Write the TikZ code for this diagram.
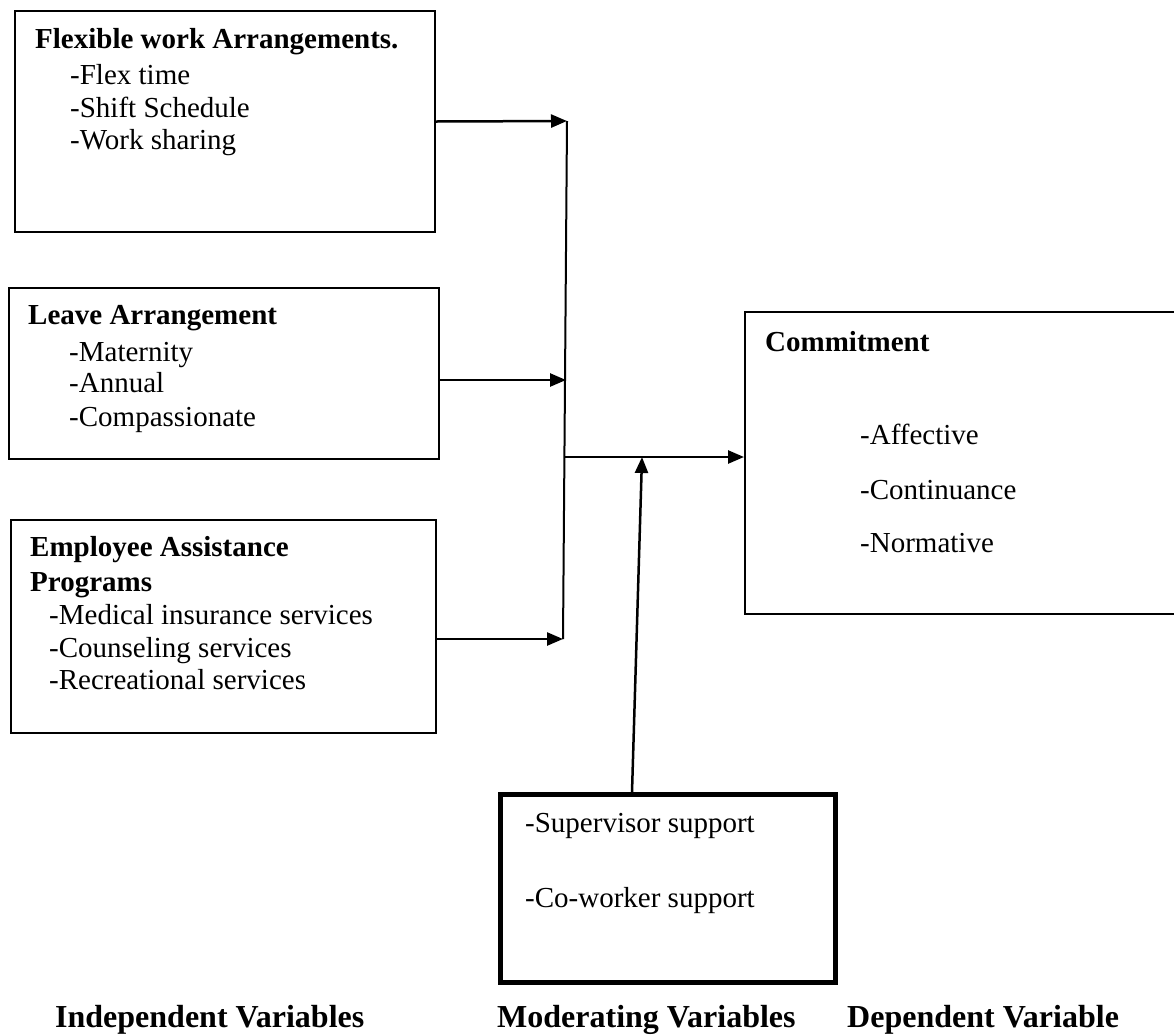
\documentclass[tikz,border=0pt]{standalone}
\usepackage{fontspec}
\setmainfont{Liberation Serif}
\usetikzlibrary{arrows.meta}
\begin{document}
\begin{tikzpicture}[x=1pt,y=-1pt,
  box/.style={draw, line width=2pt, rectangle, inner sep=0pt, anchor=north west},
  thickbox/.style={box, line width=4.5pt},
  txt/.style={anchor=base west, inner sep=0pt, font=\fontsize{29}{33}\selectfont},
  hd/.style={anchor=base west, inner sep=0pt, font=\fontsize{29}{33}\selectfont\bfseries},
  lbl/.style={anchor=base west, inner sep=0pt, font=\fontsize{32}{36}\selectfont\bfseries},
  conn/.style={line width=2.5pt, -{Triangle[length=16pt,width=13pt]}},
  trunk/.style={line width=2pt}]
\useasboundingbox (0,0) rectangle (1174,1034);
% boxes
\node[box, minimum width=420pt, minimum height=221pt] (b1) at (14,10) {};
\node[box, minimum width=430pt, minimum height=171pt] (b2) at (8,287) {};
\node[box, minimum width=425pt, minimum height=213pt] (b3) at (10,519) {};
\node[box, minimum width=434pt, minimum height=302pt] (cm) at (744,311) {};
\node[thickbox, minimum width=335pt, minimum height=188pt] (md) at (498,792) {};
% box 1 text
\node[hd] (t1) at (35,48) {Flexible work Arrangements.};
\node[txt] (t1a) at (70,84) {-Flex time};
\node[txt] (t1b) at (70,117) {-Shift Schedule};
\node[txt] (t1c) at (70,149) {-Work sharing};
% box 2 text
\node[hd] (t2) at (28,324) {Leave Arrangement};
\node[txt] (t2a) at (69,361) {-Maternity};
\node[txt] (t2b) at (69,392) {-Annual};
\node[txt] (t2c) at (69,426) {-Compassionate};
% box 3 text
\node[hd] (t3) at (30,556) {Employee Assistance};
\node[hd] (t3x) at (30,591) {Programs};
\node[txt] (t3a) at (49,624) {-Medical insurance services};
\node[txt] (t3b) at (49,657) {-Counseling services};
\node[txt] (t3c) at (49,689) {-Recreational services};
% commitment text
\node[hd] (t4) at (765,351) {Commitment};
\node[txt] (t4a) at (860,444) {-Affective};
\node[txt] (t4b) at (860,499) {-Continuance};
\node[txt] (t4c) at (860,552) {-Normative};
% moderating text
\node[txt] (t5a) at (525,832) {-Supervisor support};
\node[txt] (t5b) at (525,907) {-Co-worker support};
% bottom labels
\node[lbl] (l1) at (55,1027) {Independent Variables};
\node[lbl] (l2) at (497,1027) {Moderating Variables};
\node[lbl] (l3) at (847,1027) {Dependent Variable};
% junctions
\coordinate (j1) at (567,121);
\coordinate (j2) at (566,380);
\coordinate (j3) at (563,639);
\coordinate (j4) at (565,457);
\coordinate (j5) at (642,457);
\coordinate (m0) at (632,792);
% connectors
\draw[trunk] (j1) -- (j3);
\draw[conn] (b1.east) -- (j1);
\draw[conn] (b2.east |- j2) -- (j2);
\draw[conn] (b3.east |- j3) -- (j3);
\draw[conn] (j4) -- (cm.west |- j4);
\draw[conn] (m0) -- (j5);
\end{tikzpicture}
\end{document}
